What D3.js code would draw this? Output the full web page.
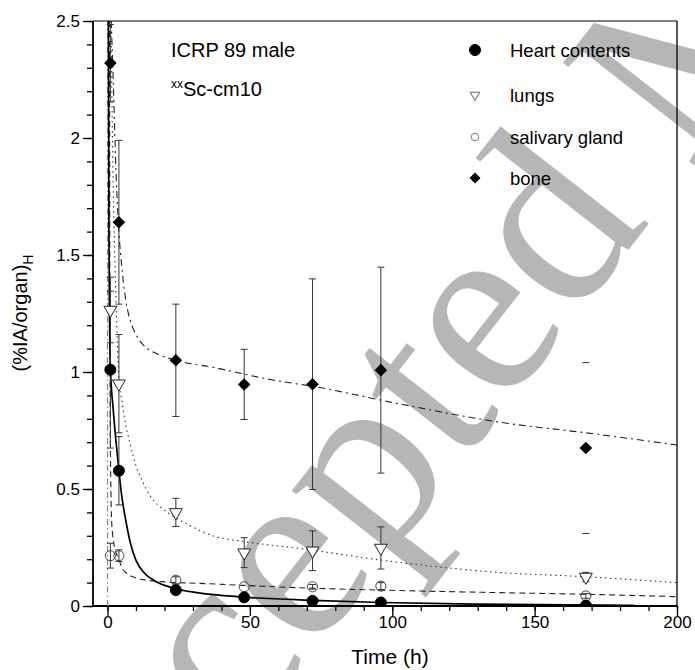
<!DOCTYPE html>
<html><head><meta charset="utf-8">
<script src="https://cdn.jsdelivr.net/npm/d3@7"></script>
<style>body{margin:0;background:#fff}svg{display:block}</style>
</head><body><svg id="c" width="695" height="670"></svg>
<script>
// ---- measured data (hours, %IA/organ) ----
const times = [1, 4, 24, 48, 72, 96, 168];
const heartVals = [1.01, 0.578, 0.068, 0.037, 0.022, 0.015, 0.002];
const heartErr  = [0.335, 0.146, 0.012, 0, 0, 0, 0];
const lungsVals = [1.265, 0.95, 0.40, 0.228, 0.236, 0.248, 0.124];
const lungsErr  = [0.14, 0.21, 0.06, 0.064, 0.085, 0.09, 0.02];
const salivaryVals = [0.215, 0.215, 0.11, 0.082, 0.082, 0.085, 0.043];
const salivaryErr  = [0.053, 0.025, 0.015, 0, 0.01, 0.015, 0.01];
const boneVals = [2.32, 1.64, 1.05, 0.947, 0.948, 1.008, 0.675];
const boneErr  = [0.165, 0.35, 0.24, 0.15, 0.45, 0.44, 0.365];

// ---- fitted curves ----
const heartFitT = [0.3, 0.5, 1, 2, 3, 4, 5, 6.5, 8, 10, 13, 17, 23, 32, 48, 72, 96, 130, 185];
const heartFitV = [2.5, 1.6, 1.02, 0.84, 0.7, 0.578, 0.47, 0.36, 0.27, 0.195, 0.14, 0.105, 0.077, 0.056, 0.038, 0.024, 0.015, 0.008, 0.003];
const lungsFitT = [1.2, 2, 3, 4, 5, 6, 8, 10, 12, 15, 20, 28, 37, 48, 68, 100, 138, 168, 200];
const lungsFitV = [2.5, 1.8, 1.3, 0.97, 0.88, 0.8, 0.69, 0.6, 0.54, 0.47, 0.41, 0.35, 0.30, 0.275, 0.245, 0.19, 0.143, 0.125, 0.1];
const salivaryFitT = [0.7, 0.8, 1.0, 1.5, 2.5, 4, 5, 6.7, 10, 14, 20, 32, 48, 72, 96, 138, 168, 200];
const salivaryFitV = [2.5, 1.5, 0.7, 0.35, 0.25, 0.2, 0.165, 0.14, 0.12, 0.11, 0.103, 0.097, 0.088, 0.076, 0.068, 0.057, 0.05, 0.04];
const boneFitT = [1.3, 2, 3, 4, 5, 6.5, 8, 10, 13, 17, 24, 37, 58, 73, 100, 138, 168, 200];
const boneFitV = [2.5, 2.25, 1.85, 1.6, 1.45, 1.3, 1.22, 1.16, 1.11, 1.08, 1.05, 1.02, 0.966, 0.937, 0.87, 0.785, 0.74, 0.688];
const t0LineT = [0, 0];
const t0LineV = [0, 2.5];

const xTicks = [0, 50, 100, 150, 200];
const yTicks = [0, 0.5, 1, 1.5, 2, 2.5];
const yTickLabels = ["0", "0.5", "1", "1.5", "2", "2.5"];
const legendLabels = ["Heart contents", "lungs", "salivary gland", "bone"];

// ---- layout ----
const FONT = "'Liberation Sans', Arial, sans-serif";
const svg = d3.select("#c");
const L = 93, R = 677, T = 21, B = 606;
const x = d3.scaleLinear().domain([-5.1, 200]).range([L, R]);
const y = d3.scaleLinear().domain([0, 2.5]).range([B, T]);

// watermark
svg.append("text")
  .attr("transform", "translate(58,980) rotate(-52)")
  .attr("font-family", "'Liberation Serif', 'Times New Roman', serif")
  .attr("font-size", 255)
  .attr("fill", "#b6b6b6")
  .text("Accepted Manuscript");

svg.append("defs").append("clipPath").attr("id", "pc")
  .append("rect").attr("x", L).attr("y", T).attr("width", R - L).attr("height", B - T);

// axes
const gx = svg.append("g").attr("transform", `translate(0,${B})`);
gx.call(d3.axisBottom(x).tickValues(d3.range(0, 201, 10)).tickSize(5).tickFormat(""));
gx.call(g => g.selectAll(".domain").remove());
const gx2 = svg.append("g").attr("transform", `translate(0,${B})`);
gx2.call(d3.axisBottom(x).tickValues(xTicks).tickSize(10).tickPadding(0).tickFormat(d3.format("d")));
gx2.select(".domain").remove();
svg.selectAll("g .tick line").attr("stroke", "#000").attr("stroke-width", 1.3);
gx2.selectAll("text").attr("font-family", FONT).attr("font-size", 17).attr("fill", "#000");

const gy = svg.append("g").attr("transform", `translate(${L},0)`);
gy.call(d3.axisLeft(y).tickValues(d3.range(0, 26).map(i => i / 10)).tickSize(6).tickFormat(""));
gy.select(".domain").remove();
const gy2 = svg.append("g").attr("transform", `translate(${L},0)`);
gy2.call(d3.axisLeft(y).tickValues(yTicks).tickSize(10).tickPadding(3).tickFormat((d, i) => yTickLabels[i]));
gy2.select(".domain").remove();
svg.selectAll("g .tick line").attr("stroke", "#000").attr("stroke-width", 1.3);
gy2.selectAll("text").attr("font-family", FONT).attr("font-size", 17).attr("fill", "#000");

// frame
svg.append("line").attr("x1", L).attr("x2", L).attr("y1", T).attr("y2", B + 0.75).attr("stroke", "#000").attr("stroke-width", 1.8);
svg.append("line").attr("x1", L).attr("x2", R).attr("y1", B).attr("y2", B).attr("stroke", "#000").attr("stroke-width", 1.8);
svg.append("line").attr("x1", L).attr("x2", R).attr("y1", T).attr("y2", T).attr("stroke", "#000").attr("stroke-width", 1);
svg.append("line").attr("x1", R).attr("x2", R).attr("y1", T).attr("y2", B).attr("stroke", "#000").attr("stroke-width", 1.3);

// axis titles
svg.append("text").attr("x", 390).attr("y", 664).attr("text-anchor", "middle")
  .attr("font-family", FONT).attr("font-size", 21).text("Time (h)");
const yl = svg.append("text").attr("transform", "translate(27,313) rotate(-90)").attr("text-anchor", "middle")
  .attr("font-family", FONT).attr("font-size", 20);
yl.append("tspan").text("(%IA/organ)");
yl.append("tspan").attr("font-size", 14).attr("dy", 6).text("H");

// plot content
const plot = svg.append("g").attr("clip-path", "url(#pc)");
const line = d3.line().x(d => x(d[0])).y(d => y(d[1])).curve(d3.curveMonotoneX);
const zipc = (a, b) => a.map((t, i) => [t, b[i]]);

plot.append("path").datum(zipc(t0LineT, t0LineV)).attr("d", d3.line().x(d => x(d[0])).y(d => y(d[1])))
  .attr("fill", "none").attr("stroke", "#888").attr("stroke-width", 1.2).attr("stroke-dasharray", "6,3,1.5,3");
plot.append("path").datum(zipc(boneFitT, boneFitV)).attr("d", line)
  .attr("fill", "none").attr("stroke", "#222").attr("stroke-width", 1.1).attr("stroke-dasharray", "7,4,2,4");
plot.append("path").datum(zipc(lungsFitT, lungsFitV)).attr("d", line)
  .attr("fill", "none").attr("stroke", "#333").attr("stroke-width", 1.1).attr("stroke-dasharray", "1.5,3.5");
plot.append("path").datum(zipc(salivaryFitT, salivaryFitV)).attr("d", line)
  .attr("fill", "none").attr("stroke", "#222").attr("stroke-width", 1.1).attr("stroke-dasharray", "6,4");
plot.append("path").datum(zipc(heartFitT, heartFitV)).attr("d", line)
  .attr("fill", "none").attr("stroke", "#000").attr("stroke-width", 1.7);

// error bars
function errBars(vals, errs, drawLine) {
  const g = plot.append("g").attr("stroke", "#333").attr("stroke-width", 1);
  times.forEach((t, i) => {
    const e = errs[i];
    if (!e) return;
    const cx = x(t), y1 = y(vals[i] + e), y2 = y(vals[i] - e);
    if (drawLine(i)) g.append("line").attr("x1", cx).attr("x2", cx).attr("y1", y1).attr("y2", y2);
    g.append("line").attr("x1", cx - 3.5).attr("x2", cx + 3.5).attr("y1", y1).attr("y2", y1);
    g.append("line").attr("x1", cx - 3.5).attr("x2", cx + 3.5).attr("y1", y2).attr("y2", y2);
  });
}
errBars(boneVals, boneErr, i => times[i] !== 168);
errBars(lungsVals, lungsErr, () => true);
errBars(salivaryVals, salivaryErr, () => true);
errBars(heartVals, heartErr, () => true);

const symCircle = d3.symbol().type(d3.symbolCircle).size(95)();
const symOpenCircle = d3.symbol().type(d3.symbolCircle).size(80)();
const symSquare = d3.symbol().type(d3.symbolSquare).size(62)();
const symTri = d3.symbol().type(d3.symbolTriangle).size(72)();

function markers(vals, path, fill, stroke, rot) {
  plot.append("g").selectAll("path").data(times.map((t, i) => [t, vals[i]])).join("path")
    .attr("d", path)
    .attr("transform", d => `translate(${x(d[0])},${y(d[1])}) rotate(${rot})`)
    .attr("fill", fill).attr("stroke", stroke).attr("stroke-width", 1);
}
markers(salivaryVals, symOpenCircle, "none", "#444", 0);
markers(lungsVals, symTri, "#fff", "#222", 180);
markers(boneVals, symSquare, "#000", "#000", 45);
markers(heartVals, symCircle, "#000", "#000", 0);

// annotation
svg.append("text").attr("x", 171).attr("y", 57).attr("font-family", FONT).attr("font-size", 20).text("ICRP 89 male");
const ann = svg.append("text").attr("x", 171).attr("y", 96).attr("font-family", FONT).attr("font-size", 20);
ann.append("tspan").attr("font-size", 12).attr("dy", -8).text("xx");
ann.append("tspan").attr("dy", 8).text("Sc-cm10");

// legend
const legY = [50, 95, 137, 178];
const legSyms = [
  {p: symCircle, f: "#000", s: "#000", r: 0},
  {p: d3.symbol().type(d3.symbolTriangle).size(40)(), f: "none", s: "#666", r: 180},
  {p: d3.symbol().type(d3.symbolCircle).size(45)(), f: "none", s: "#777", r: 0},
  {p: d3.symbol().type(d3.symbolSquare).size(45)(), f: "#000", s: "#000", r: 45}
];
const leg = svg.append("g");
legendLabels.forEach((lab, i) => {
  leg.append("path").attr("d", legSyms[i].p).attr("transform", `translate(475,${legY[i]}) rotate(${legSyms[i].r})`)
    .attr("fill", legSyms[i].f).attr("stroke", legSyms[i].s);
  leg.append("text").attr("x", 510).attr("y", legY[i] + 6.5).attr("font-family", FONT).attr("font-size", 18.5).text(lab);
});
</script></body></html>
